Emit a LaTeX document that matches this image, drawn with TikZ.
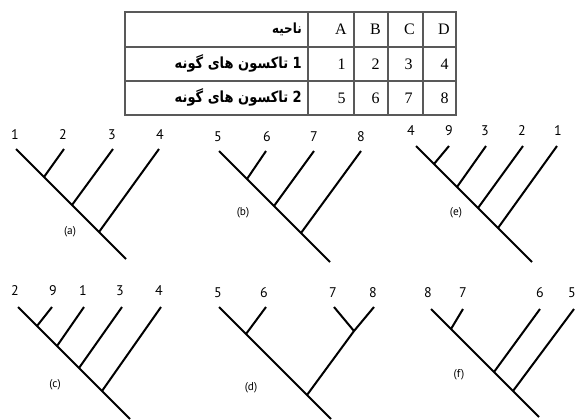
\documentclass[tikz,border=0pt]{standalone}
\usepackage{fontspec}
\setmainfont{Liberation Serif}
\newfontfamily\fa[Script=Arabic,FakeStretch=0.85]{DejaVu Sans}
\newfontfamily\lab{PT Sans}
\tikzset{
  br/.style={line width=1.5pt, line cap=butt},
  leaf/.style={font=\lab\fontsize{10.5}{12}\selectfont, inner sep=0pt},
  tag/.style={font=\lab\fontsize{8.5}{10}\selectfont, inner sep=0pt},
  cell/.style={font=\fontsize{12}{14}\selectfont, inner sep=0pt, anchor=east},
  faw/.style={font=\fa\bfseries\fontsize{11.5}{13}\selectfont, inner sep=0pt, anchor=base east},
  fahead/.style={font=\fa\bfseries\fontsize{10.5}{12}\selectfont, inner sep=0pt, anchor=base east},
  tabline/.style={line width=1pt, draw=black!65}
}
\begin{document}
\begin{tikzpicture}[x=0.75pt,y=-0.75pt]
\useasboundingbox (0,0) rectangle (576,419);
% ---------------- table ----------------
\draw[tabline] (125,12) rectangle (456,115);
\foreach \y in {47,81} \draw[tabline] (125,\y) -- (456,\y);
\foreach \x in {308,354,388,423} \draw[tabline] (\x,12) -- (\x,115);
\node[fahead] (h0) at (302,33.5) {ناحیه};
% row 1: words placed one by one, left to right: gune | ha-ye | takson | 1
\node[faw] (h1d) at (302,68.5) {1};
\node[faw] (h1c) at ([xshift=-3pt]h1d.base west) {تاکسون};
\node[faw] (h1b) at ([xshift=-3pt]h1c.base west) {های};
\node[faw] (h1a) at ([xshift=-3pt]h1b.base west) {گونه};
% row 2
\node[faw] (h2d) at (302,102.5) {2};
\node[faw] (h2c) at ([xshift=-3pt]h2d.base west) {تاکسون};
\node[faw] (h2b) at ([xshift=-3pt]h2c.base west) {های};
\node[faw] (h2a) at ([xshift=-3pt]h2b.base west) {گونه};
\node[cell] (cA) at (347,29.5) {A};
\node[cell] (cB) at (381,29.5) {B};
\node[cell] (cC) at (415,29.5) {C};
\node[cell] (cD) at (450,29.5) {D};
\node[cell] (c1) at (346,64) {1};
\node[cell] (c2) at (380,64) {2};
\node[cell] (c3) at (413,64) {3};
\node[cell] (c4) at (449,64) {4};
\node[cell] (c5) at (346,98) {5};
\node[cell] (c6) at (380,98) {6};
\node[cell] (c7) at (413,98) {7};
\node[cell] (c8) at (449,98) {8};
% ---------------- tree (a) ----------------
\coordinate (a1) at (16,149);
\coordinate (a2) at (64,149);
\coordinate (a3) at (113,149);
\coordinate (a4) at (159,149);
\coordinate (aj1) at (44,177);
\coordinate (aj2) at (72,205);
\coordinate (aj3) at (99,232);
\coordinate (ar) at (126,259);
\draw[br] (a1) -- (ar);
\draw[br] (a2) -- (aj1);
\draw[br] (a3) -- (aj2);
\draw[br] (a4) -- (aj3);
\node[leaf] (la1) at (15,135) {1};
\node[leaf] (la2) at (63,135) {2};
\node[leaf] (la3) at (112,135) {3};
\node[leaf] (la4) at (160,135) {4};
\node[tag] (ta) at (70,232) {(a)};
% ---------------- tree (b) ----------------
\coordinate (b5) at (219,151);
\coordinate (b6) at (266,151);
\coordinate (b7) at (314,151);
\coordinate (b8) at (361,151);
\coordinate (bj1) at (247,179);
\coordinate (bj2) at (274,206);
\coordinate (bj3) at (301,233);
\coordinate (br0) at (330,262);
\draw[br] (b5) -- (br0);
\draw[br] (b6) -- (bj1);
\draw[br] (b7) -- (bj2);
\draw[br] (b8) -- (bj3);
\node[leaf] (lb5) at (218,137) {5};
\node[leaf] (lb6) at (267,137) {6};
\node[leaf] (lb7) at (314,137) {7};
\node[leaf] (lb8) at (361,137) {8};
\node[tag] (tb) at (243,213) {(b)};
% ---------------- tree (e) ----------------
\coordinate (e4) at (416,146);
\coordinate (e9) at (449,146);
\coordinate (e3) at (486,146);
\coordinate (e2) at (523,146);
\coordinate (e1) at (557,146);
\coordinate (ej1) at (434,164);
\coordinate (ej2) at (457,187);
\coordinate (ej3) at (478,208);
\coordinate (ej4) at (498,228);
\coordinate (er) at (532,262);
\draw[br] (e4) -- (er);
\draw[br] (e9) -- (ej1);
\draw[br] (e3) -- (ej2);
\draw[br] (e2) -- (ej3);
\draw[br] (e1) -- (ej4);
\node[leaf] (le4) at (411,131) {4};
\node[leaf] (le9) at (449,131) {9};
\node[leaf] (le3) at (485,131) {3};
\node[leaf] (le2) at (522,131) {2};
\node[leaf] (le1) at (558,131) {1};
\node[tag] (te) at (456,213) {(e)};
% ---------------- tree (c) ----------------
\coordinate (c2t) at (18,307);
\coordinate (c9t) at (52,307);
\coordinate (c1t) at (84,307);
\coordinate (c3t) at (122,307);
\coordinate (c4t) at (161,307);
\coordinate (cj1) at (37,326);
\coordinate (cj2) at (57,346);
\coordinate (cj3) at (79,368);
\coordinate (cj4) at (102,391);
\coordinate (cr) at (130,419);
\draw[br] (c2t) -- (cr);
\draw[br] (c9t) -- (cj1);
\draw[br] (c1t) -- (cj2);
\draw[br] (c3t) -- (cj3);
\draw[br] (c4t) -- (cj4);
\node[leaf] (lc2) at (15,291) {2};
\node[leaf] (lc9) at (53,291) {9};
\node[leaf] (lc1) at (83,291) {1};
\node[leaf] (lc3) at (120,291) {3};
\node[leaf] (lc4) at (159,291) {4};
\node[tag] (tc) at (55,385) {(c)};
% ---------------- tree (d) ----------------
\coordinate (d5) at (219,307);
\coordinate (d6) at (266,307);
\coordinate (d7) at (334,307);
\coordinate (d8) at (374,307);
\coordinate (dj1) at (246,334);
\coordinate (dj2) at (354,331);
\coordinate (dj3) at (307,395);
\coordinate (dr) at (331,419);
\draw[br] (d5) -- (dr);
\draw[br] (d6) -- (dj1);
\draw[br] (d7) -- (dj2);
\draw[br] (d8) -- (dj2) -- (dj3);
\node[leaf] (ld5) at (218,293) {5};
\node[leaf] (ld6) at (264,293) {6};
\node[leaf] (ld7) at (333,293) {7};
\node[leaf] (ld8) at (373,293) {8};
\node[tag] (td) at (251,388) {(d)};
% ---------------- tree (f) ----------------
\coordinate (f8) at (431,309);
\coordinate (f7) at (463,309);
\coordinate (f6) at (540,309);
\coordinate (f5) at (574,309);
\coordinate (fj1) at (451,329);
\coordinate (fj2) at (494,372);
\coordinate (fj3) at (513,391);
\coordinate (fr) at (539,417);
\draw[br] (f8) -- (fr);
\draw[br] (f7) -- (fj1);
\draw[br] (f6) -- (fj2);
\draw[br] (f5) -- (fj3);
\node[leaf] (lf8) at (428,293) {8};
\node[leaf] (lf7) at (463,293) {7};
\node[leaf] (lf6) at (540,293) {6};
\node[leaf] (lf5) at (572,293) {5};
\node[tag] (tf) at (459,375) {(f)};
\end{tikzpicture}
\end{document}
